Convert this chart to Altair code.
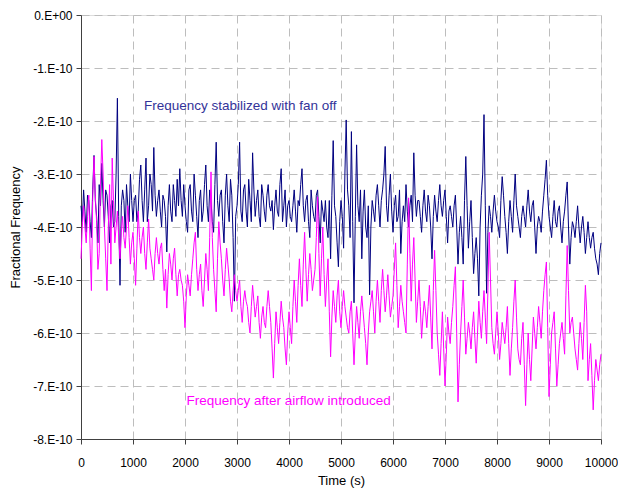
import altair as alt
import pandas as pd

STEP = 50

# Frequency stabilized with fan off (units of 1e-10), at t = 0, 50, 100, ...
fan_off = [
    -3.6, -3.3, -4.1, -3.5, -4.2, -2.65, -3.8, -3.2, -2.8, -4.0,
    -3.4, -4.3, -3.5, -3.9, -1.57, -5.1, -3.3, -4.1, -3.6, -3.0,
    -3.9, -3.4, -3.7, -2.83, -3.9, -2.7, -3.6, -3.2, -2.5, -3.8,
    -3.3, -4.0, -3.5, -4.47, -3.2, -3.9, -3.5, -3.1, -2.9, -3.8,
    -3.6, -4.1, -3.2, -3.9, -3.4, -4.2, -3.3, -3.7, -2.83, -3.9,
    -3.5, -4.1, -2.4, -3.8, -3.3, -4.3, -3.0, -3.9, -3.4, -5.4,
    -3.6, -2.4, -3.9, -3.2, -4.0, -3.5, -2.6, -3.8, -3.3, -4.0,
    -3.4, -3.9, -3.2, -3.7, -4.05, -3.3, -3.8, -2.9, -3.6, -4.0,
    -3.5, -3.9, -3.3, -4.1, -3.6, -2.9, -3.9, -3.4, -4.2, -3.6,
    -3.9, -3.3, -4.3, -3.7, -3.5, -4.2, -4.6, -2.37, -3.8, -4.75,
    -3.5, -4.4, -1.98, -3.6, -2.2, -5.43, -2.45, -3.9, -4.6, -3.3,
    -4.2, -5.28, -3.5, -3.9, -3.2, -4.0, -3.3, -2.48, -3.9, -3.0,
    -4.1, -3.4, -3.8, -4.5, -3.6, -3.2, -4.0, -3.4, -2.6, -3.8,
    -3.5, -4.1, -3.3, -3.9, -3.6, -4.6, -3.4, -3.9, -3.2, -3.8,
    -3.3, -4.3, -3.6, -4.0, -3.4, -4.7, -3.8, -4.7, -2.67, -4.4,
    -3.5, -4.88, -4.2, -5.3, -3.4, -1.88, -5.25, -3.6, -4.1, -3.4,
    -3.9, -4.2, -3.05, -3.8, -4.5, -3.5, -4.1, -3.0, -3.8, -4.2,
    -3.6, -4.0, -3.3, -3.9, -3.5, -4.5, -3.8, -4.1, -3.4, -2.74,
    -3.8, -4.2, -3.5, -4.0, -3.6, -4.3, -3.7, -3.15, -4.7, -3.9,
    -4.2, -3.6, -4.3, -3.8, -4.5, -3.9, -4.4, -4.1, -4.6, -4.9,
    -4.3,
]
# fan off, at t = 25, 75, 125, ...
fan_off_mid = [
    -3.9, -3.7, -3.4, -3.9, -3.3, -3.5, -4.3, -3.6, -3.5, -3.3,
    -3.8, -3.6, -4.0, -3.0, -3.8, -3.6, -3.5, -3.2, -3.9, -3.5,
    -3.5, -3.9, -3.1, -3.5, -3.3, -3.9, -3.0, -3.7, -3.4, -3.5,
    -3.7, -3.4, -3.8, -3.6, -3.7, -3.2, -3.8, -3.6, -3.5, -3.2,
    -3.9, -3.3, -3.7, -3.0, -3.8, -3.5, -3.9, -3.2, -3.6, -3.3,
    -3.9, -3.2, -3.5, -3.4, -3.9, -3.4, -3.6, -3.1, -4.2, -3.8,
    -3.2, -3.7, -3.3, -3.7, -3.1, -3.9, -3.3, -3.5, -3.8, -3.2,
    -3.7, -3.4, -3.6, -3.5, -3.6, -3.7, -3.2, -3.9, -3.3, -3.6,
    -3.8, -3.6, -3.7, -3.5, -3.2, -3.6, -3.5, -3.9, -3.3, -3.8,
    -3.4, -3.8, -3.5, -3.9, -4.0, -3.5, -3.4, -3.6, -4.3, -3.9,
    -3.8, -3.0, -3.3, -4.2, -3.9, -3.8, -3.6, -3.3, -3.7, -4.0,
    -3.6, -4.0, -3.7, -3.4, -3.6, -3.5, -3.0, -3.6, -3.4, -3.7,
    -3.6, -3.9, -3.3, -3.9, -3.9, -3.7, -3.6, -3.9, -3.4, -3.5,
    -3.8, -3.6, -3.7, -3.4, -4.0, -3.8, -3.7, -3.5, -3.6, -3.5,
    -3.8, -3.7, -3.8, -3.6, -4.0, -4.1, -4.2, -3.5, -3.6, -3.9,
    -4.2, -4.5, -4.6, -4.0, -3.0, -3.6, -4.1, -3.8, -3.7, -3.7,
    -4.0, -3.5, -3.4, -4.1, -3.9, -3.8, -3.5, -3.6, -4.0, -3.8,
    -3.8, -3.6, -3.7, -3.6, -4.0, -4.0, -3.9, -3.7, -3.1, -3.4,
    -4.0, -3.8, -3.9, -3.7, -4.0, -3.9, -3.4, -4.0, -4.2, -4.0,
    -3.9, -4.0, -4.0, -4.1, -4.2, -4.2, -4.2, -4.4, -4.7, -4.5,
]

# Frequency after airflow introduced (units of 1e-10), at t = 0, 50, 100, ...
airflow = [
    -4.6, -3.6, -4.3, -3.4, -5.2, -2.67, -3.9, -4.5, -2.35, -4.0,
    -5.2, -3.2, -2.7, -4.3, -3.7, -4.6, -3.8, -4.4, -3.6, -4.7,
    -4.1, -5.1, -3.7, -4.5, -4.0, -4.8, -3.85, -4.6, -5.0, -4.2,
    -4.7, -4.3, -5.2, -5.53, -4.5, -5.0, -4.4, -5.3, -4.8, -5.1,
    -5.9, -4.9, -5.3, -4.6, -4.1, -5.2, -4.7, -5.5, -4.5, -5.2,
    -2.96, -4.8, -5.6, -3.9, -4.6, -5.3, -4.4, -5.0, -5.6, -4.9,
    -5.4, -5.0, -5.8, -5.2, -5.5, -6.0, -5.1, -5.7, -5.3, -6.1,
    -5.5, -5.9, -5.2, -5.8, -6.85, -5.6, -6.2, -5.4, -5.9, -6.6,
    -5.6, -6.2, -5.0, -5.8, -4.6, -5.5, -4.1, -5.4, -4.5, -5.2,
    -4.8, -3.43, -5.3, -4.0, -5.5, -4.6, -6.45, -5.2, -5.8, -5.0,
    -5.9, -5.2, -5.7, -6.0, -5.4, -6.6, -5.5, -6.1, -5.3, -5.9,
    -6.6, -5.6, -5.2, -6.0, -5.0, -5.8, -4.8, -5.6, -4.9, -5.7,
    -5.3, -4.3, -5.9, -5.1, -5.6, -6.0, -3.45, -5.4, -4.2, -5.8,
    -5.0, -6.1, -5.4, -5.9, -5.1, -6.3, -4.44, -6.0, -6.8, -5.6,
    -7.0, -5.7, -6.2, -5.5, -4.75, -7.3, -6.0, -5.0, -6.4, -5.8,
    -6.3, -5.6, -6.57, -5.4, -6.1, -5.2, -6.2, -4.1, -5.9, -6.4,
    -5.6, -6.5, -5.8, -6.2, -5.5, -6.8, -5.9, -5.0, -6.3, -6.6,
    -5.8, -7.37, -6.0, -6.9, -5.7, -6.3, -5.5, -6.1, -5.2, -4.66,
    -7.2, -6.0, -5.6, -7.0, -6.2, -5.8, -6.4, -4.35, -6.0, -5.7,
    -6.3, -6.7, -5.8, -6.5, -5.1, -6.9, -6.2, -7.45, -6.5, -6.9,
    -6.4,
]
# airflow, at t = 25, 75, 125, ...
airflow_mid = [
    -4.0, -4.0, -3.8, -4.4, -3.5, -3.4, -4.8, -3.2, -3.0, -4.6,
    -4.0, -4.7, -3.5, -4.0, -4.2, -4.1, -4.2, -4.0, -4.2, -4.3,
    -4.6, -4.4, -4.2, -4.2, -4.5, -4.3, -4.4, -4.8, -4.5, -4.5,
    -4.4, -4.8, -4.8, -4.9, -4.7, -4.6, -4.9, -4.9, -5.0, -5.4,
    -5.3, -5.1, -4.9, -4.3, -4.8, -4.9, -5.2, -5.0, -4.8, -4.2,
    -4.2, -5.2, -4.6, -4.3, -5.0, -4.8, -4.7, -5.4, -5.2, -5.2,
    -5.2, -5.5, -5.4, -5.4, -5.8, -5.5, -5.4, -5.5, -5.8, -5.7,
    -5.8, -5.5, -5.5, -6.3, -6.2, -5.9, -5.8, -5.7, -6.3, -6.0,
    -5.9, -5.5, -5.4, -5.1, -5.1, -4.7, -4.8, -4.9, -4.8, -5.0,
    -4.2, -4.5, -4.6, -4.9, -5.0, -5.6, -5.7, -5.5, -5.3, -5.6,
    -5.5, -5.5, -5.9, -5.6, -6.0, -6.0, -5.8, -5.6, -5.6, -6.2,
    -6.0, -5.4, -5.6, -5.4, -5.4, -5.2, -5.2, -5.3, -5.3, -5.5,
    -4.8, -5.1, -5.5, -5.4, -5.8, -4.7, -4.5, -4.7, -5.0, -5.4,
    -5.5, -5.7, -5.6, -5.5, -5.7, -5.2, -5.2, -6.4, -6.2, -6.3,
    -6.4, -6.0, -5.8, -5.1, -6.0, -6.6, -5.5, -5.7, -6.1, -6.0,
    -5.9, -6.1, -6.0, -5.8, -5.6, -5.7, -5.2, -5.0, -6.2, -6.0,
    -6.0, -6.2, -6.0, -5.9, -6.2, -6.3, -5.4, -5.7, -6.5, -6.1,
    -6.6, -6.6, -6.5, -6.3, -6.0, -5.9, -5.8, -5.6, -4.9, -5.9,
    -6.6, -5.8, -6.3, -6.6, -6.0, -6.1, -5.3, -5.2, -5.8, -6.0,
    -6.5, -6.2, -6.1, -5.8, -5.6, -6.5, -6.8, -6.9, -6.7, -6.6,
]

x_ticks = list(range(0, 10001, 1000))
y_ticks = [i * 1e-10 for i in range(-8, 1)]


def trace(main, mid):
    rows = [(i * STEP, v * 1e-10) for i, v in enumerate(main)]
    rows += [(i * STEP + STEP // 2, v * 1e-10) for i, v in enumerate(mid)]
    return pd.DataFrame(rows, columns=["t", "f"]).sort_values("t")


df_off = trace(fan_off, fan_off_mid)
df_air = trace(airflow, airflow_mid)

FONT = "Liberation Sans"
common = dict(grid=True, gridDash=[8, 5], gridColor="#bdbdbd",
              tickSize=5, labelFontSize=12, titleFontSize=13,
              labelFont=FONT, titleFont=FONT, titleFontWeight="normal",
              labelColor="#000", titleColor="#000",
              domainColor="#404040", tickColor="#404040")

x_enc = alt.X("t:Q", scale=alt.Scale(domain=[0, 10000], nice=False),
              axis=alt.Axis(values=x_ticks, title="Time (s)", format="d",
                            labelFlush=False, labelPadding=13, titlePadding=6,
                            **common))
y_enc = alt.Y("f:Q", scale=alt.Scale(domain=[-8e-10, 0], nice=False),
              axis=alt.Axis(values=y_ticks, title="Fractional Frequency",
                            labelExpr="datum.value == 0 ? '0.E+00' : round(datum.value * 1e10) + '.E-10'",
                            labelPadding=4, titlePadding=10, **common))

line_off = alt.Chart(df_off).mark_line(color="#000080", strokeWidth=1).encode(x=x_enc, y=y_enc)
line_air = alt.Chart(df_air).mark_line(color="#ff00ff", strokeWidth=1).encode(x="t:Q", y="f:Q")

labels = pd.DataFrame({
    "t": [1210, 2030],
    "f": [-1.72e-10, -7.28e-10],
    "text": ["Frequency stabilized with fan off", "Frequency after airflow introduced"],
    "c": ["#333399", "#ff00ff"],
})
text = alt.Chart(labels).mark_text(align="left", baseline="middle", font=FONT,
                                   fontSize=13.5).encode(
    x="t:Q", y="f:Q", text="text:N", color=alt.Color("c:N", scale=None))

chart = alt.layer(line_off, line_air, text).properties(
    width=520, height=424,
    autosize=alt.AutoSizeParams(type="none"),
    padding={"left": 73, "top": 7, "right": 17, "bottom": 52},
).configure_view(stroke="#a0a0a0", strokeWidth=1).configure(background="white")

chart.save("out.html", embed_options={"renderer": "svg", "actions": False})
